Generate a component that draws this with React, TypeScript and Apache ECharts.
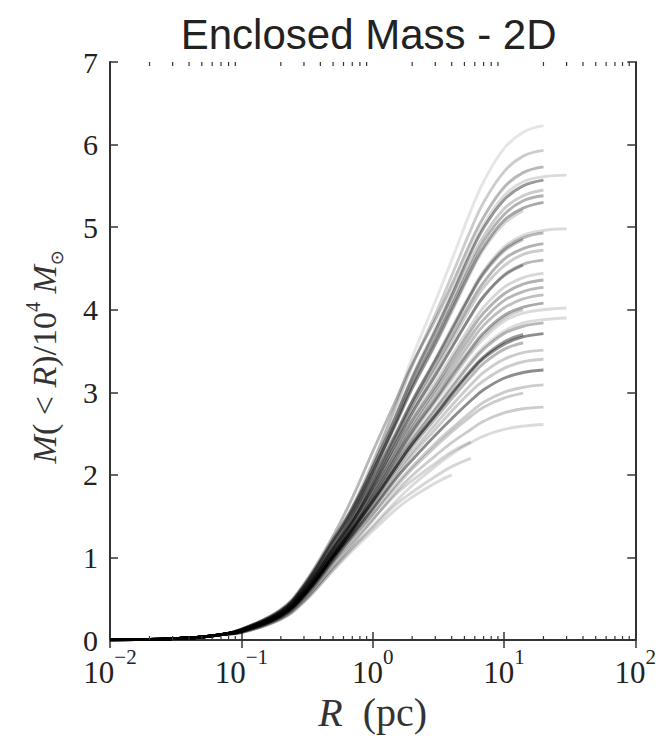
import React, { useEffect, useRef } from "react";
import * as echarts from "echarts";

// Shared inner part of all profiles (curves coincide at small R)
const innerR = [0.01, 0.02, 0.03, 0.05, 0.07];
const innerM = [0.002, 0.008, 0.017, 0.037, 0.065];

// Radii (pc) at which each profile is read
const radii = [0.1, 0.2, 0.3, 0.5, 0.7, 1, 1.5, 2, 3, 4, 5.6, 7, 10, 14, 20, 30];

// Enclosed mass profiles, M(<R) / 1e4 Msun (null = beyond the profile's extent)
const c01 = [0.12, 0.33, 0.61, 1.12, 1.56, 2.12, 2.86, 3.42, 4.10, 4.60, 5.20, 5.55, 5.95, 6.15, 6.23, null];
const c02 = [0.12, 0.35, 0.64, 1.18, 1.61, 2.15, 2.82, 3.32, 3.94, 4.41, 4.97, 5.30, 5.67, 5.86, 5.93, null];
const c03 = [0.13, 0.37, 0.68, 1.26, 1.72, 2.28, 2.90, 3.34, 3.88, 4.30, 4.82, 5.12, 5.48, 5.66, 5.73, null];
const c04 = [0.12, 0.34, 0.63, 1.16, 1.57, 2.09, 2.72, 3.19, 3.77, 4.21, 4.73, 5.03, 5.38, 5.55, 5.61, 5.63];
const c05 = [0.13, 0.36, 0.66, 1.22, 1.60, 2.09, 2.71, 3.17, 3.74, 4.17, 4.69, 4.99, 5.33, 5.50, 5.57, null];
const c06 = [0.12, 0.32, 0.60, 1.10, 1.50, 2.01, 2.64, 3.11, 3.67, 4.10, 4.60, 4.89, 5.22, 5.38, 5.45, null];
const c07 = [0.12, 0.34, 0.62, 1.14, 1.53, 2.03, 2.64, 3.09, 3.64, 4.05, 4.54, 4.83, 5.15, 5.32, 5.38, null];
const c08 = [0.13, 0.35, 0.65, 1.20, 1.57, 2.04, 2.62, 3.05, 3.59, 4.00, 4.48, 4.76, 5.08, 5.23, 5.30, null];
const c09 = [0.12, 0.33, 0.60, 1.11, 1.50, 2.00, 2.60, 3.04, 3.57, 3.97, 4.45, 4.73, 5.04, 5.20, null, null];
const c10 = [0.11, 0.32, 0.58, 1.07, 1.46, 1.94, 2.50, 2.90, 3.40, 3.78, 4.21, 4.47, 4.76, 4.90, 4.96, 4.98];
const c11 = [0.13, 0.35, 0.65, 1.19, 1.53, 1.97, 2.50, 2.89, 3.39, 3.76, 4.19, 4.45, 4.73, 4.87, 4.93, null];
const c12 = [0.11, 0.30, 0.56, 1.03, 1.42, 1.89, 2.45, 2.84, 3.32, 3.67, 4.09, 4.33, 4.61, 4.74, 4.80, null];
const c13 = [0.12, 0.33, 0.60, 1.11, 1.46, 1.90, 2.42, 2.80, 3.27, 3.62, 4.03, 4.27, 4.53, 4.67, 4.72, null];
const c14 = [0.11, 0.31, 0.58, 1.06, 1.42, 1.86, 2.38, 2.75, 3.20, 3.54, 3.93, 4.16, 4.41, 4.54, null, null];
const c15 = [0.10, 0.29, 0.53, 0.97, 1.35, 1.80, 2.32, 2.68, 3.12, 3.44, 3.81, 4.03, 4.27, 4.39, 4.44, null];
const c16 = [0.12, 0.32, 0.60, 1.10, 1.43, 1.84, 2.32, 2.66, 3.07, 3.39, 3.75, 3.96, 4.19, 4.31, 4.36, null];
const c17 = [0.11, 0.30, 0.55, 1.01, 1.36, 1.78, 2.26, 2.61, 3.03, 3.33, 3.68, 3.88, 4.11, 4.22, 4.27, null];
const c18 = [0.12, 0.33, 0.61, 1.12, 1.43, 1.80, 2.25, 2.57, 2.98, 3.27, 3.61, 3.81, 4.02, 4.13, 4.18, null];
const c19 = [0.11, 0.30, 0.55, 1.02, 1.35, 1.74, 2.21, 2.53, 2.92, 3.21, 3.53, 3.72, 3.93, 4.03, 4.08, null];
const c20 = [0.10, 0.29, 0.53, 0.98, 1.32, 1.71, 2.17, 2.49, 2.88, 3.15, 3.47, 3.65, 3.86, 3.96, 4.00, 4.02];
const c21 = [0.11, 0.31, 0.57, 1.05, 1.36, 1.72, 2.15, 2.44, 2.81, 3.08, 3.38, 3.55, 3.74, 3.84, 3.88, 3.90];
const c22 = [0.11, 0.30, 0.54, 1.00, 1.32, 1.69, 2.13, 2.42, 2.79, 3.05, 3.35, 3.52, 3.71, 3.80, 3.84, null];
const c23 = [0.11, 0.31, 0.57, 1.05, 1.34, 1.68, 2.09, 2.37, 2.72, 2.97, 3.25, 3.41, 3.58, 3.67, 3.71, null];
const c24 = [0.11, 0.30, 0.55, 1.01, 1.32, 1.67, 2.09, 2.38, 2.73, 2.99, 3.27, 3.43, 3.61, 3.70, null, null];
const c25 = [0.10, 0.28, 0.52, 0.95, 1.26, 1.61, 2.02, 2.28, 2.61, 2.84, 3.09, 3.24, 3.40, 3.48, 3.51, null];
const c26 = [0.11, 0.30, 0.55, 1.01, 1.28, 1.58, 1.95, 2.18, 2.48, 2.68, 2.90, 3.03, 3.17, 3.24, 3.27, null];
const c27 = [0.10, 0.27, 0.51, 0.93, 1.22, 1.52, 1.88, 2.10, 2.38, 2.56, 2.76, 2.88, 3.00, 3.06, 3.09, null];
const c28 = [0.10, 0.29, 0.54, 0.99, 1.24, 1.52, 1.85, 2.07, 2.34, 2.52, 2.71, 2.82, 2.93, 2.99, null, null];
const c29 = [0.09, 0.26, 0.48, 0.88, 1.16, 1.45, 1.79, 1.99, 2.23, 2.39, 2.55, 2.65, 2.75, 2.80, 2.82, null];
const c30 = [0.09, 0.25, 0.46, 0.85, 1.11, 1.38, 1.68, 1.87, 2.10, 2.25, 2.39, 2.47, 2.55, 2.59, 2.61, null];
const c31 = [0.09, 0.26, 0.48, 0.88, 1.12, 1.36, 1.64, 1.79, 1.98, 2.10, 2.20, null, null, null, null, null];
const c32 = [0.09, 0.25, 0.46, 0.84, 1.08, 1.32, 1.58, 1.73, 1.90, 2.00, null, null, null, null, null, null];
const c33 = [0.10, 0.28, 0.51, 0.94, 1.18, 1.46, 1.76, 1.93, 2.14, 2.28, 2.40, null, null, null, null, null];
const c34 = [0.12, 0.32, 0.60, 1.10, 1.47, 1.93, 2.48, 2.88, 3.38, 3.74, 4.18, 4.43, 4.71, 4.85, null, null];
const c35 = [0.11, 0.31, 0.57, 1.05, 1.41, 1.85, 2.38, 2.75, 3.21, 3.54, 3.93, 4.16, 4.42, 4.55, 4.60, null];
const c36 = [0.10, 0.29, 0.54, 0.99, 1.29, 1.65, 2.06, 2.34, 2.68, 2.92, 3.19, 3.35, 3.52, 3.60, null, null];
const c37 = [0.10, 0.28, 0.52, 0.96, 1.26, 1.59, 1.98, 2.24, 2.55, 2.77, 3.01, 3.14, 3.29, 3.37, 3.40, null];
const c38 = [0.11, 0.30, 0.55, 1.01, 1.35, 1.74, 2.19, 2.51, 2.90, 3.18, 3.50, 3.69, 3.90, 4.00, null, null];

const curves: (number | null)[][] = [
  c01, c02, c03, c04, c05, c06, c07, c08, c09, c10, c11, c12, c13, c14, c15, c16, c17, c18, c19,
  c20, c21, c22, c23, c24, c25, c26, c27, c28, c29, c30, c31, c32, c33, c34, c35, c36, c37, c38,
];

// Styles (kept separate from the data)
const curveOpacity = [
  0.1, 0.2, 0.28, 0.14, 0.4, 0.2, 0.3, 0.34, 0.16, 0.14, 0.28, 0.3, 0.2, 0.28, 0.16, 0.3, 0.28, 0.25, 0.34,
  0.14, 0.14, 0.28, 0.45, 0.4, 0.2, 0.45, 0.2, 0.2, 0.2, 0.14, 0.16, 0.14, 0.16, 0.25, 0.28, 0.28, 0.2, 0.2,
];

const xMin = 0.01;
const xMax = 100;
const yMin = 0;
const yMax = 7;
const minorMultipliers = [2, 3, 4, 5, 6, 7, 8, 9];
const minorDecades = [0.01, 0.1, 1, 10];

const SERIF = "'Liberation Serif', 'DejaVu Serif', serif";
const SANS = "'Liberation Sans', Arial, Helvetica, sans-serif";
const FRAME = "#333";

export default function App() {
  const ref = useRef<HTMLDivElement>(null);

  useEffect(() => {
    const chart = echarts.init(ref.current!, null, { renderer: "svg" });

    const series = curves.map((c, i) => {
      const pts: [number, number][] = innerR.map((r, j) => [r, innerM[j]] as [number, number]);
      radii.forEach((r, j) => {
        const v = c[j];
        if (v !== null && v !== undefined) pts.push([r, v]);
      });
      return {
        type: "line",
        data: pts,
        symbol: "none",
        showSymbol: false,
        smooth: 0.4,
        silent: true,
        lineStyle: { color: "#000", width: 2.9, opacity: curveOpacity[i] },
        z: 2,
      };
    });

    const expLabel = (v: number) => {
      const e = Math.round(Math.log10(v));
      const s = e < 0 ? "\u2212" + Math.abs(e) : String(e);
      return `{b|10}{e|${s}}`;
    };

    const xRich = {
      b: { fontSize: 31, fontFamily: SERIF, color: "#222", lineHeight: 42, verticalAlign: "bottom" },
      e: { fontSize: 21, fontFamily: SERIF, color: "#222", lineHeight: 24, verticalAlign: "top" },
    };

    const commonX = {
      type: "log",
      logBase: 10,
      min: xMin,
      max: xMax,
      splitLine: { show: false },
      axisLine: { show: true, lineStyle: { color: FRAME, width: 2 } },
      axisTick: { show: true, inside: true, length: 8, lineStyle: { color: FRAME, width: 1.5 } },
    };
    const commonY = {
      type: "value",
      min: yMin,
      max: yMax,
      interval: 1,
      splitLine: { show: false },
      axisLine: { show: true, lineStyle: { color: FRAME, width: 2 } },
      axisTick: { show: true, inside: true, length: 8, lineStyle: { color: FRAME, width: 1.5 } },
    };

    chart.setOption({
      animation: false,
      backgroundColor: "#fff",
      grid: { left: 110, right: 21, top: 62, bottom: 98 },
      xAxis: [
        {
          ...commonX,
          position: "bottom",
          axisLabel: { show: true, margin: 6, formatter: expLabel, rich: xRich },
          name: "{i|R}{n|  (pc)}",
          nameLocation: "middle",
          nameGap: 39,
          nameTextStyle: {
            rich: {
              i: { fontSize: 40, fontFamily: SERIF, fontStyle: "italic", color: "#333" },
              n: { fontSize: 40, fontFamily: SERIF, color: "#333" },
            },
          },
        },
        { ...commonX, position: "top", axisLabel: { show: false } },
      ],
      yAxis: [
        {
          ...commonY,
          position: "left",
          axisLabel: { show: true, fontSize: 30, fontFamily: SERIF, color: "#222", margin: 12 },
        },
        { ...commonY, position: "right", axisLabel: { show: false } },
      ],
      series,
    });

    // Minor ticks of the log axis (matplotlib style), placed through the axis scale
    const yBottom = chart.convertToPixel({ yAxisIndex: 0 }, yMin) as number;
    const yTop = chart.convertToPixel({ yAxisIndex: 0 }, yMax) as number;
    const graphics: any[] = [];
    minorDecades.forEach((d) => {
      minorMultipliers.forEach((m) => {
        const px = chart.convertToPixel({ xAxisIndex: 0 }, d * m) as number;
        graphics.push({
          type: "line",
          shape: { x1: px, y1: yBottom, x2: px, y2: yBottom - 4 },
          style: { stroke: FRAME, lineWidth: 1.2 },
          silent: true,
          z: 10,
        });
        graphics.push({
          type: "line",
          shape: { x1: px, y1: yTop, x2: px, y2: yTop + 4 },
          style: { stroke: FRAME, lineWidth: 1.2 },
          silent: true,
          z: 10,
        });
      });
    });
    const xLeft = chart.convertToPixel({ xAxisIndex: 0 }, xMin) as number;
    const xRight = chart.convertToPixel({ xAxisIndex: 0 }, xMax) as number;
    const yMid = chart.convertToPixel({ yAxisIndex: 0 }, 3.43) as number;
    graphics.push({
      type: "text",
      x: (xLeft + xRight) / 2 - 4,
      y: 34,
      style: {
        text: "Enclosed Mass - 2D",
        fontSize: 42,
        fontFamily: SANS,
        fill: "#222",
        textAlign: "center",
        textVerticalAlign: "middle",
      },
      silent: true,
    });
    graphics.push({
      type: "text",
      x: 44,
      y: yMid,
      rotation: Math.PI / 2,
      style: {
        text: "{i|M}{n|( < }{i|R}{n|)/10}{s|4}{i| M}{o|\u2299}",
        textAlign: "center",
        textVerticalAlign: "middle",
        rich: {
          i: { fontSize: 34, fontFamily: SERIF, fontStyle: "italic", fill: "#333", lineHeight: 42, verticalAlign: "middle" },
          n: { fontSize: 34, fontFamily: SERIF, fill: "#333", lineHeight: 42, verticalAlign: "middle" },
          s: { fontSize: 20, fontFamily: SERIF, fill: "#333", lineHeight: 25, verticalAlign: "top" },
          o: { fontSize: 18, fontFamily: "'DejaVu Sans', sans-serif", fill: "#333", lineHeight: 19, verticalAlign: "bottom" },
        },
      },
      silent: true,
    });
    chart.setOption({ graphic: graphics });

    return () => chart.dispose();
  }, []);

  return (
    <div
      ref={ref}
      style={{ position: "fixed", left: 0, top: 0, width: 659, height: 738, background: "#fff" }}
    />
  );
}
